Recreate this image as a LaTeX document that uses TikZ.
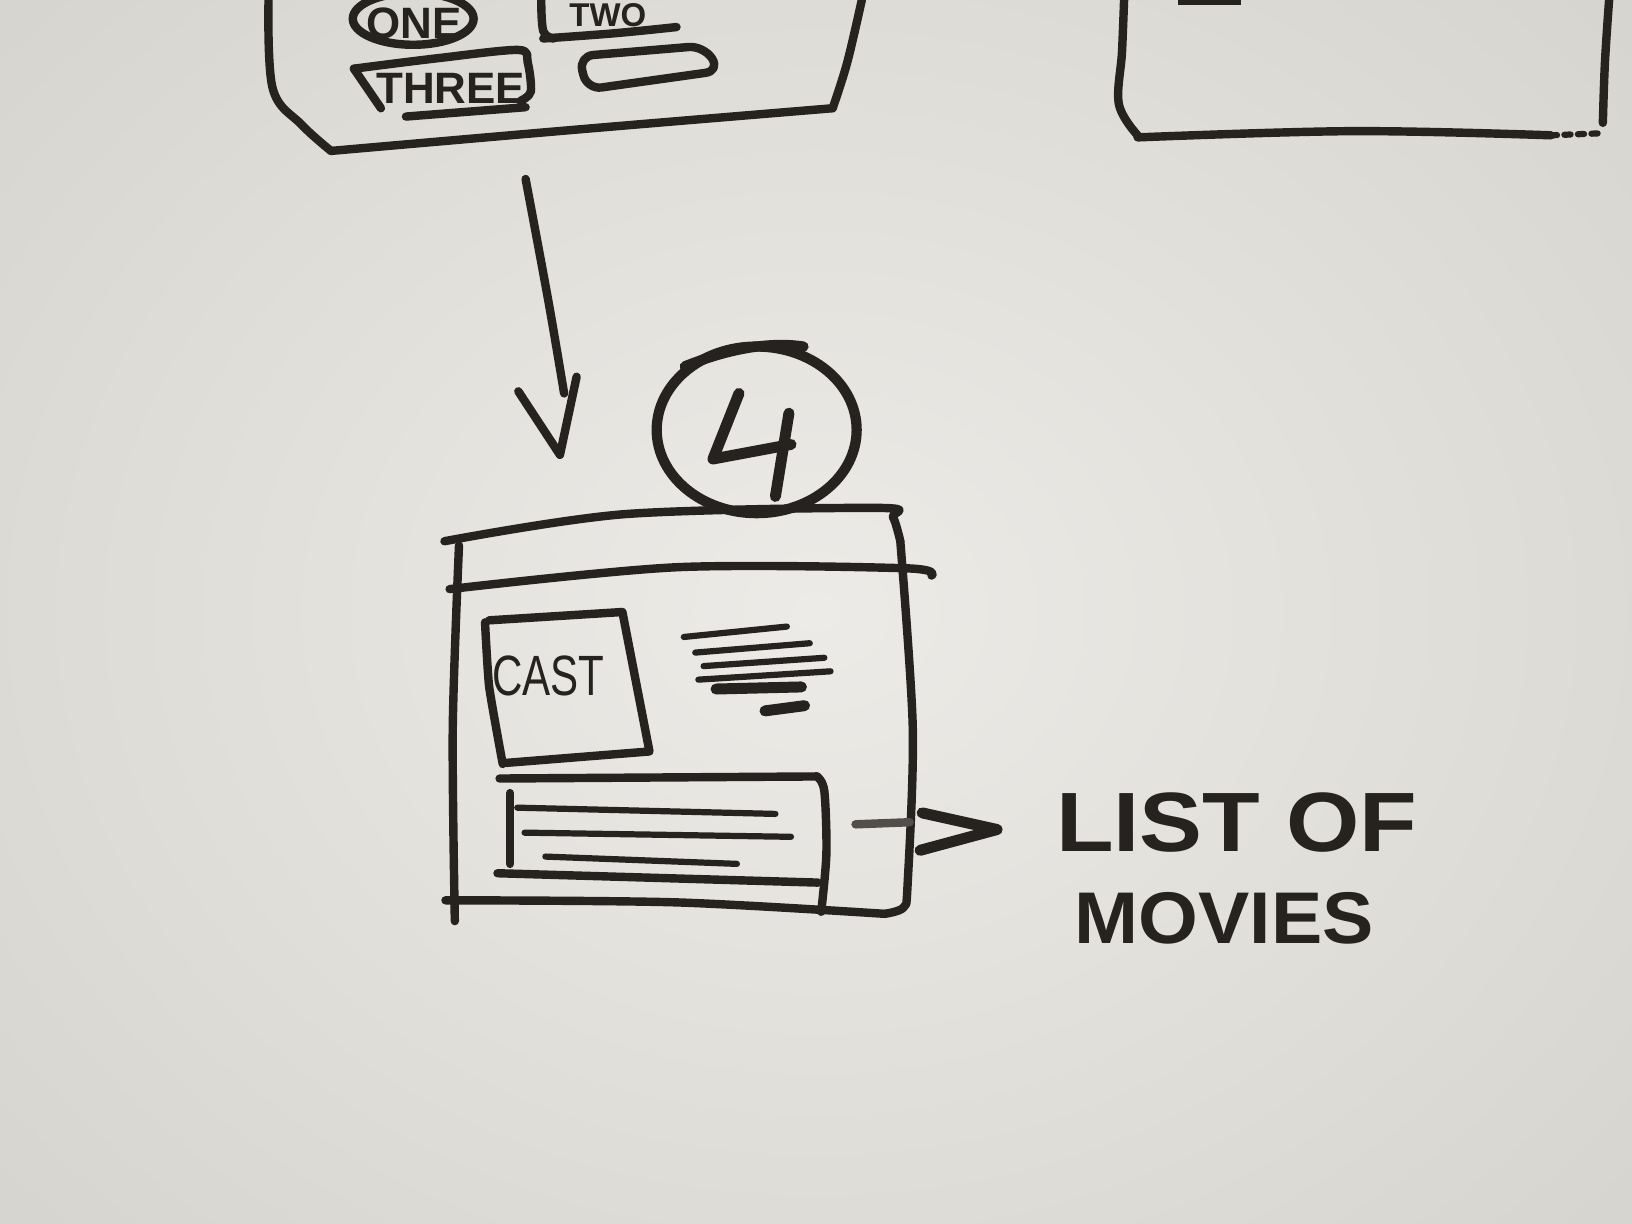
\documentclass[tikz,border=0pt]{standalone}
\usepackage{fontspec}
\setmainfont{Liberation Sans}
\definecolor{ink}{RGB}{38,34,31}
\definecolor{boardc}{RGB}{236,235,231}
\definecolor{boarde}{RGB}{214,212,206}
\tikzset{
  marker/.style={draw=ink, line width=2.3pt, line cap=round, line join=round},
  fine/.style={draw=ink, line width=1.7pt, line cap=round, line join=round},
  hand/.style={text=ink, inner sep=0pt},
}
\begin{document}
\begin{tikzpicture}[x=0.01cm, y=-0.01cm]
\useasboundingbox (0,0) rectangle (1568,1176);
\clip (0,0) rectangle (1568,1176);
\shade[inner color=boardc, outer color=boarde] (-300,-300) rectangle (1868,1476);

% ---------- top-left sketch ----------
\draw[marker] plot[smooth, tension=0.6] coordinates {(258,0) (262,85) (290,120) (318,145)};
\draw[marker] plot[smooth, tension=0.6] coordinates {(318,145) (560,124) (800,104)};
\draw[marker] plot[smooth, tension=0.6] coordinates {(828,0) (814,60) (800,104)};
% ONE
\draw[marker] (397,18) ellipse [x radius=0.58cm, y radius=0.25cm];
\node[hand, font=\bfseries\fontsize{12}{12}\selectfont] (one) at (398,22) {ONE};
% TWO
\draw[marker] plot[smooth, tension=0.6] coordinates {(520,0) (522,30) (532,37)};
\draw[marker] plot[smooth, tension=0.6] coordinates {(522,37) (590,32) (650,26)};
\node[hand, font=\bfseries\fontsize{9}{9}\selectfont] (two) at (584,15) {TWO};
% THREE
\draw[marker] plot[smooth, tension=0.5] coordinates {(340,66) (420,56) (498,48) (507,60) (510,88) (500,97)};
\draw[marker] (340,66) -- (366,104);
\draw[marker] (390,112) -- (505,103);
\node[hand, font=\bfseries\fontsize{12}{12}\selectfont] (three) at (433,85) {THREE};
% empty rectangle
\draw[marker, rounded corners=4pt] (556,54) -- (676,44) -- (692,68) -- (564,86) -- cycle;

% ---------- top-right sketch ----------
\fill[ink] (1132,0) rectangle (1192,5);
\draw[marker] plot[smooth, tension=0.6] coordinates {(1080,0) (1078,50) (1075,100) (1093,130)};
\draw[marker] plot[smooth, tension=0.6] coordinates {(1093,132) (1300,126) (1490,130)};
\draw[fine, dotted] (1490,130) -- (1540,128);
\draw[marker] plot[smooth, tension=0.6] coordinates {(1546,0) (1542,60) (1540,118)};

% ---------- down arrow ----------
\coordinate (arrtop) at (505,172);
\coordinate (arrtip) at (538,437);
\draw[marker] plot[smooth, tension=0.6] coordinates {(arrtop) (527,290) (542,378)};
\draw[marker] (498,376) -- (arrtip) -- (554,362);

% ---------- circled 4 ----------
\draw[marker, line width=2.8pt] (727,413) ellipse [x radius=0.96cm, y radius=0.80cm];
\draw[marker, line width=2.8pt] (658,352) .. controls (700,335) and (740,328) .. (772,333);
\node[hand] (four) at (727,420) {};
\draw[marker, line width=3pt] (710,378) -- (685,441) -- (760,427);
\draw[marker, line width=3pt] (758,397) -- (745,477);

% ---------- main window ----------
\draw[marker] plot[smooth, tension=0.5] coordinates {(427,520) (600,494) (845,488) (858,497) (865,520)};
\draw[marker] plot[smooth, tension=0.5] coordinates {(865,520) (877,700) (872,850) (868,872) (850,878)};
\draw[marker] plot[smooth, tension=0.5] coordinates {(432,566) (650,545) (870,546) (895,553)};
\draw[marker] plot[smooth, tension=0.5] coordinates {(441,524) (435,700) (437,885)};
\draw[marker] plot[smooth, tension=0.5] coordinates {(428,865) (650,867) (850,878)};
% CAST box
\draw[marker] plot[smooth, tension=0.3] coordinates {(466,598) (470,660) (483,734)};
\draw[marker] (470,596) -- (598,588) -- (624,722) -- (486,733);
\node[hand, font=\fontsize{11.5}{11.5}\selectfont] (cast) at (527,649) {\scalebox{1}[1.35]{CAST}};
% text lines
\draw[fine] (657,612) -- (756,602);
\draw[fine] (668,627) -- (778,618);
\draw[fine] (676,640) -- (792,632);
\draw[fine] (671,653) -- (798,645);
\draw[marker, line width=3pt] (688,662) -- (770,660);
\draw[marker, line width=3pt] (735,683) -- (773,678);
% list box
\draw[marker] (480,748) -- (785,746);
\draw[marker] plot[smooth, tension=0.5] coordinates {(785,746) (792,760) (794,820) (789,876)};
\draw[marker] (478,839) -- (786,848);
\draw[marker] (490,762) -- (490,830);
\draw[fine] (497,776) -- (745,782);
\draw[fine] (504,800) -- (760,804);
\draw[fine] (524,823) -- (708,830);

% ---------- arrow to label ----------
\node[hand, font=\bfseries\fontsize{23}{23}\selectfont, anchor=west] (listof) at (1014,790) {\scalebox{1.12}[1]{LIST OF}};
\node[hand, font=\bfseries\fontsize{20}{20}\selectfont, anchor=west] (movies) at (1032,882) {\scalebox{1.05}[1]{MOVIES}};
\coordinate (arrstart) at (822,792);
\draw[marker, draw=ink!80] (arrstart) -- (874,790);
\draw[marker, line width=3pt] (886,781) -- (958,797) -- (884,817);
\end{tikzpicture}
\end{document}
